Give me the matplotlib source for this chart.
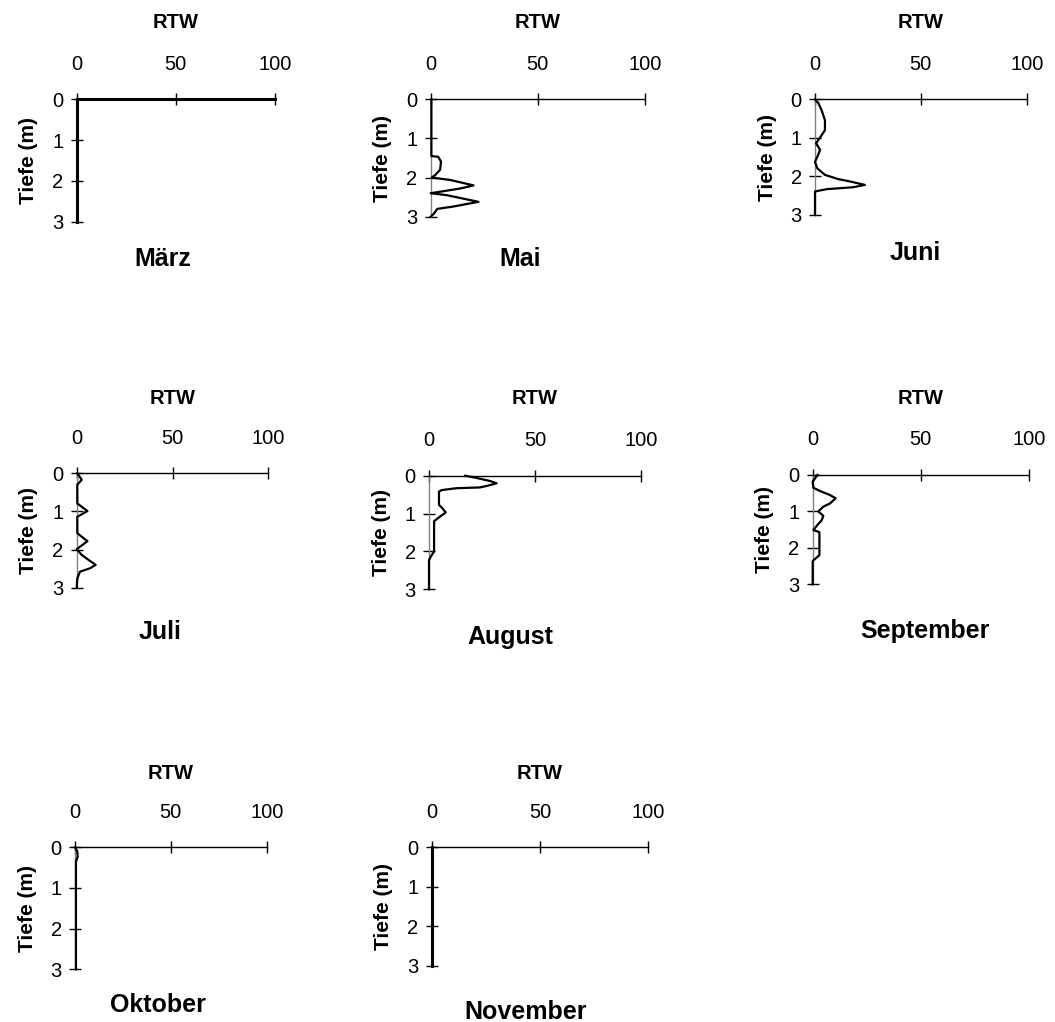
import matplotlib
matplotlib.use("Agg")
import matplotlib.pyplot as plt

plt.rcParams['font.family'] = ['Liberation Sans', 'DejaVu Sans']

# Depth profiles (m) and RTW values per month
maerz_depth = [0, 3.0]
maerz_rtw = [0, 0]

mai_depth = [0, 1.45, 1.47, 1.59, 1.8, 1.94, 2.0, 2.06, 2.2, 2.28, 2.40, 2.45, 2.62, 2.74, 2.8, 2.92, 3.0]
mai_rtw = [0.3, 0.3, 3.5, 4.8, 4.4, 2, 0.5, 9, 20, 13.7, 0, 7.5, 22.3, 10.6, 3.1, 1.5, 0]

juni_depth = [0, 0.1, 0.28, 0.54, 0.8, 0.99, 1.14, 1.31, 1.49, 1.62, 1.79, 1.96, 2.07, 2.13, 2.22, 2.28, 2.33, 2.39, 2.48, 3.0]
juni_rtw = [0, 1.6, 3.1, 4.7, 4.7, 2.4, 0.5, 2.4, 1.1, 0, 1.1, 4.7, 11, 16.5, 23.6, 18, 5.5, 0, 0, 0]

juli_depth = [0, 0.17, 0.3, 0.79, 0.99, 1.14, 1.57, 1.78, 1.99, 2.14, 2.3, 2.4, 2.49, 2.58, 2.76, 3.0]
juli_rtw = [0.3, 2.6, 0.3, 0.3, 5.6, 0.3, 0.3, 5.6, 0, 2.6, 7, 9.9, 7, 1.7, 0.3, 0]

august_depth = [0, 0.05, 0.14, 0.2, 0.26, 0.31, 0.33, 0.38, 0.42, 0.77, 0.84, 0.97, 1.08, 1.2, 2.0, 2.14, 2.23, 3.0]
august_rtw = [17, 21.7, 28.8, 31.9, 28, 24, 13, 6, 4.7, 4.7, 6, 7.9, 5.2, 2.4, 2.4, 0.8, 0, 0]

september_depth = [0, 0.18, 0.35, 0.44, 0.55, 0.64, 0.78, 0.87, 1.0, 1.12, 1.24, 1.37, 1.51, 1.57, 2.2, 2.36, 3.0]
september_rtw = [2.2, 0, 0.3, 3.4, 8, 10.6, 8, 4.9, 2.6, 4.9, 4.2, 2.2, 0.3, 3.1, 3.1, 0, 0]

oktober_depth = [0, 0.1, 0.23, 0.35, 3.0]
oktober_rtw = [0, 1.2, 1.4, 0.5, 0.5]

november_depth = [0, 3.0]
november_rtw = [0, 0]

months = ["März", "Mai", "Juni", "Juli", "August", "September", "Oktober", "November"]
depths = [maerz_depth, mai_depth, juni_depth, juli_depth, august_depth,
          september_depth, oktober_depth, november_depth]
values = [maerz_rtw, mai_rtw, juni_rtw, juli_rtw, august_rtw,
          september_rtw, oktober_rtw, november_rtw]

x_ticks = [0, 50, 100]
y_ticks = [0, 1, 2, 3]

W, H = 1055, 1022
# Panel boxes in pixels: left, top, right, bottom
boxes = [
    (76.7, 99.3, 275.0, 221.7),
    (430.7, 99.3, 645.0, 216.7),
    (815.0, 99.3, 1026.7, 215.0),
    (76.7, 473.3, 268.3, 587.7),
    (429.0, 475.7, 641.0, 589.3),
    (812.7, 475.0, 1029.0, 584.3),
    (75.0, 847.3, 266.7, 969.3),
    (431.7, 847.3, 648.3, 965.7),
]
# Month caption centres in pixels
captions = [(163, 259), (520, 259), (915, 253), (160, 632), (510, 637),
            (925, 631), (158, 1005), (526, 1012)]
rtw_y = [23, 23, 23, 398, 398, 398, 773, 773]

fig = plt.figure(figsize=(W / 100, H / 100), dpi=100)

for i, (month, d, v) in enumerate(zip(months, depths, values)):
    l, t, r, b = boxes[i]
    ax = fig.add_axes([l / W, 1 - b / H, (r - l) / W, (b - t) / H])
    ax.plot(v, d, color='black', lw=1.6 if month not in ("März", "November") else 2.2,
            solid_joinstyle='round', zorder=3, clip_on=False)
    ax.set_xlim(0, 100)
    ax.set_ylim(3, 0)
    ax.set_xticks(x_ticks)
    ax.set_yticks(y_ticks)
    ax.xaxis.tick_top()
    for s in ('right', 'bottom'):
        ax.spines[s].set_visible(False)
    ax.spines['left'].set_color('#808080')
    ax.spines['left'].set_linewidth(1.0)
    ax.spines['top'].set_color('black')
    ax.spines['top'].set_linewidth(2.2 if month == "März" else 1.0)
    ax.tick_params(axis='x', direction='inout', length=9, width=1.0,
                   labelsize=14.5, pad=14)
    ax.tick_params(axis='y', direction='inout', length=9, width=1.0,
                   labelsize=14.5, pad=5)
    ax.set_ylabel("Tiefe (m)", fontsize=15, fontweight='bold', labelpad=10)
    ax.patch.set_visible(False)

    cx = (l + r) / 2
    fig.text(cx / W, 1 - rtw_y[i] / H, "RTW", ha='center', va='center',
             fontsize=14.5, fontweight='bold')
    mx, my = captions[i]
    fig.text(mx / W, 1 - my / H, month, ha='center', va='center',
             fontsize=18, fontweight='bold')

fig.savefig("out.png", dpi=100)
